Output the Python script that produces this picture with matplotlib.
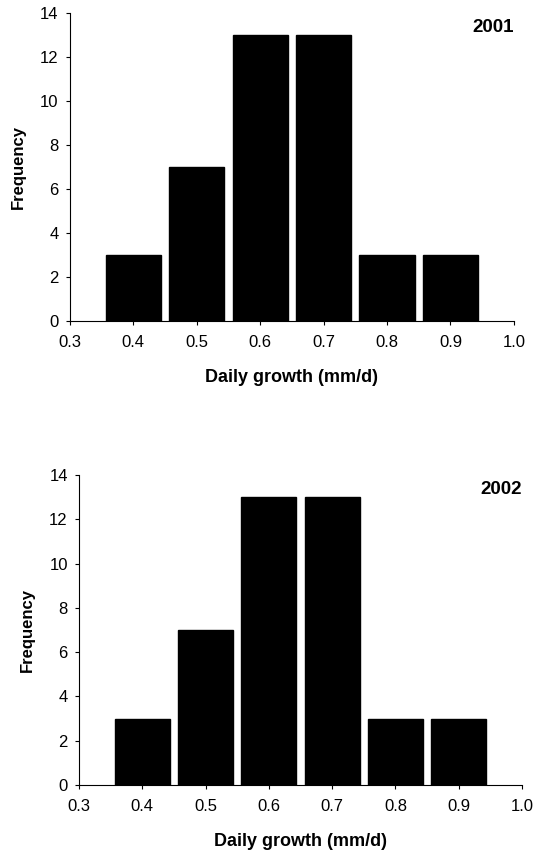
import matplotlib
matplotlib.use("Agg")
import matplotlib.pyplot as plt

plt.rcParams['font.family'] = ['Liberation Sans', 'DejaVu Sans']

bin_centers = [0.4, 0.5, 0.6, 0.7, 0.8, 0.9]
freq_2001 = [3, 7, 13, 13, 3, 3]
freq_2002 = [3, 7, 13, 13, 3, 3]
years = ["2001", "2002"]
x_ticks = [0.3, 0.4, 0.5, 0.6, 0.7, 0.8, 0.9, 1.0]
y_ticks = [0, 2, 4, 6, 8, 10, 12, 14]

fig = plt.figure(figsize=(5.41, 8.55), dpi=100)
ax_rects = [
    [0.129, 0.6246, 0.821, 0.360],
    [0.146, 0.0819, 0.819, 0.3625],
]

for rect, freqs, year in zip(ax_rects, [freq_2001, freq_2002], years):
    ax = fig.add_axes(rect)
    ax.bar(bin_centers, freqs, width=0.087, color='black', edgecolor='black')
    ax.set_xlim(0.3, 1.0)
    ax.set_ylim(0, 14)
    ax.set_xticks(x_ticks)
    ax.set_xticklabels([f"{v:.1f}" for v in x_ticks])
    ax.set_yticks(y_ticks)
    for side in ('top', 'right'):
        ax.spines[side].set_visible(False)
    for side in ('left', 'bottom'):
        ax.spines[side].set_linewidth(0.8)
    ax.tick_params(axis='both', direction='out', length=3, width=0.8,
                   labelsize=12)
    ax.tick_params(axis='x', pad=7)
    ax.tick_params(axis='y', pad=5)
    ax.set_xlabel("Daily growth (mm/d)", fontsize=13, fontweight='bold', labelpad=14)
    ax.set_ylabel("Frequency", fontsize=12, fontweight='bold', labelpad=10)
    ax.text(1.0, 0.98, year, transform=ax.transAxes, ha='right', va='top',
            fontsize=13.5, fontweight='bold')

fig.savefig("out.png", dpi=100)
